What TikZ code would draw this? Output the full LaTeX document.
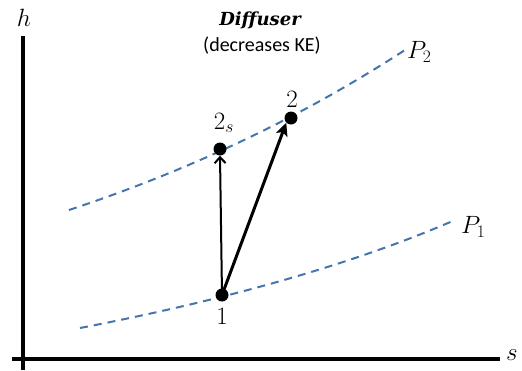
\RequirePackage{fix-cm}
\documentclass[tikz,border=0pt]{standalone}
\usepackage{fontspec}
\newfontfamily\carl{Carlito}
\newfontfamily\titlefont{DejaVu Serif}
\usetikzlibrary{arrows.meta}
\definecolor{isobar}{RGB}{68,118,172}
\tikzset{
  axis/.style={line width=3.1pt},
  isoline/.style={isobar, line width=2pt, dash pattern=on 8pt off 6pt},
  statept/.style={circle, fill=black, inner sep=0pt, minimum size=13pt},
  lbl/.style={font=\fontsize{25}{29}\selectfont, inner sep=0pt},
  procarrow/.style={-{Stealth[length=13pt,width=12pt,inset=3pt]}, line width=3pt},
  procarrowthin/.style={-{Straight Barb[length=6pt,width=11pt,line width=2pt]}, line width=2pt}
}
\begin{document}
\begin{tikzpicture}[x=1pt,y=-1pt]
\useasboundingbox (0,0) rectangle (522,370);
% axes
\coordinate (ytop) at (23,36);
\coordinate (ybot) at (23,370);
\coordinate (xl) at (12,359);
\coordinate (xr) at (500,359);
\draw[axis] (ytop) -- (ybot);
\draw[axis] (xl) -- (xr);
\node[lbl] (hlab) at (24,18) {$h$};
\node[lbl] (slab) at (512,355) {$s$};
% isobars
\draw[isoline] (69,210) .. controls (190,170) and (300,118) .. (405,50);
\draw[isoline] (80,328) .. controls (200,305) and (340,270) .. (455,220);
\node[lbl, anchor=west] (p2) at (407,52) {$P_2$};
\node[lbl, anchor=west] (p1) at (461,227) {$P_1$};
% states
\node[statept] (s1) at (222,295) {};
\node[statept] (s2s) at (220,149) {};
\node[statept] (s2) at (291,118) {};
\node[lbl] (l1) at (222,316) {$1$};
\node[lbl] (l2s) at (224,123) {$2_s$};
\node[lbl] (l2) at (292,99) {$2$};
% process arrows
\draw[procarrowthin] (s1.center) -- (s2s.south);
\draw[procarrow] (s1.center) -- (s2.south west);
% title
\node[font=\titlefont\fontsize{18}{21}\selectfont\bfseries\itshape, inner sep=0pt] (title) at (260,20) {Diffuser};
\node[font=\carl\fontsize{20}{24}\selectfont, inner sep=0pt] (sub) at (262,46) {(decreases KE)};
\end{tikzpicture}
\end{document}
